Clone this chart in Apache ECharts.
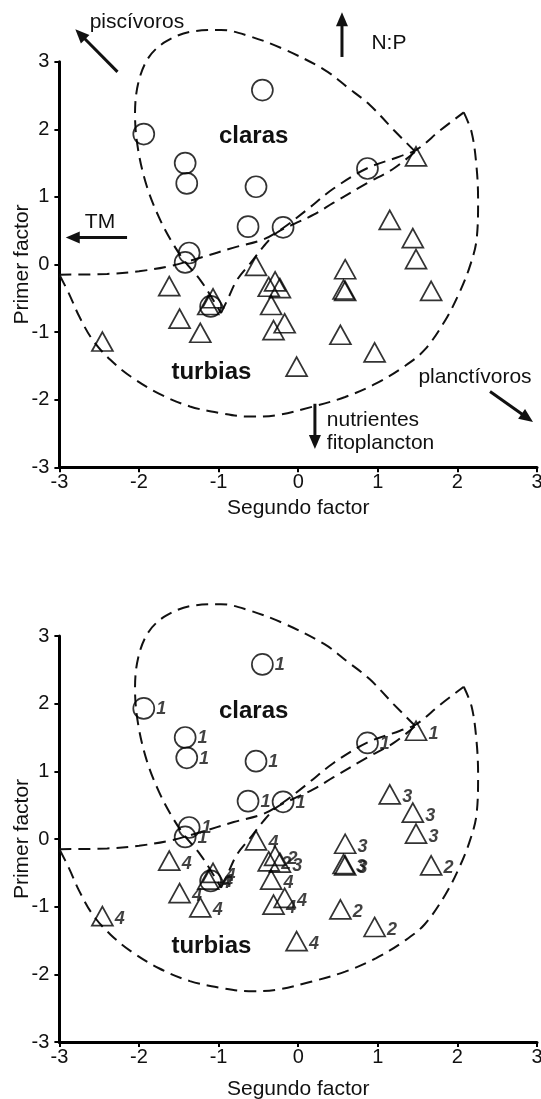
<!DOCTYPE html>
<html>
<head>
<meta charset="utf-8">
<script src="https://cdn.jsdelivr.net/npm/echarts@6/dist/echarts.min.js"></script>
<style>
  html, body { margin: 0; padding: 0; background: #fff; }
  #main { width: 541px; height: 1099px; }
</style>
</head>
<body>
<div id="main"></div>
<script>
(function () {

  // lagos claras (circulos)
  var circX = [-0.45, -1.94, -1.42, -1.40, -0.53, 0.87, -0.63, -0.19, -1.37, -1.42, -1.10];
  var circY = [2.58, 1.93, 1.50, 1.20, 1.15, 1.42, 0.56, 0.55, 0.17, 0.03, -0.62];
  var circLab = ['1', '1', '1', '1', '1', '1', '1', '1', '1', '1', '4'];

  // lagos turbios (triangulos)
  var triX = [1.48, 1.15, 1.44, 1.48, -0.53, 0.59, -1.62, -0.29, -0.37, -0.23, 0.57, 0.59,
    1.67, -1.07, -1.13, -0.34, -1.49, -0.17, -1.23, -0.31, 0.53, -2.46, 0.96, -0.02];
  var triY = [1.60, 0.66, 0.39, 0.08, -0.02, -0.07, -0.32, -0.25, -0.33, -0.35, -0.37, -0.39,
    -0.39, -0.50, -0.60, -0.60, -0.80, -0.87, -1.01, -0.97, -1.04, -1.14, -1.30, -1.51];
  var triLab = ['1', '3', '3', '3', '4', '3', '4', '2', '2', '3', '3', '3',
    '2', '4', '4', '4', '4', '4', '4', '4', '2', '4', '2', '4'];

  // contornos a mano alzada (coordenadas de los factores)
  var clarasArc = [[1.47, 1.67], [1.2, 1.99], [0.9, 2.36], [0.62, 2.62], [0.33, 2.88], [-0.19, 3.19],
    [-0.62, 3.38], [-0.97, 3.47], [-1.32, 3.45], [-1.66, 3.30], [-1.88, 3.06], [-2.01, 2.68],
    [-2.05, 2.22], [-2.01, 1.69], [-1.9, 1.15], [-1.75, 0.7], [-1.6, 0.36], [-1.44, 0.07],
    [-1.23, -0.23], [-1.07, -0.52], [-0.97, -0.72]];
  var clarasBack = [[-0.97, -0.72], [-0.88, -0.5], [-0.77, -0.23], [-0.6, 0.02], [-0.44, 0.26],
    [-0.27, 0.47], [-0.05, 0.6], [0.2, 0.74], [0.44, 0.91], [0.86, 1.2], [1.2, 1.42], [1.47, 1.67]];
  var turbiasTop = [[-3, -0.15], [-2.4, -0.14], [-2.0, -0.1], [-1.6, -0.02], [-1.23, 0.1],
    [-0.81, 0.25], [-0.44, 0.37], [-0.19, 0.54], [0.1, 0.8], [0.44, 1.12], [0.86, 1.42],
    [1.28, 1.6], [1.49, 1.7], [1.78, 1.98], [2.08, 2.25]];
  var turbiasOuter = [[2.08, 2.25], [2.18, 1.95], [2.24, 1.45], [2.26, 0.95], [2.24, 0.36],
    [2.15, -0.05], [2.02, -0.43], [1.85, -0.82], [1.59, -1.26], [1.33, -1.51], [0.98, -1.76],
    [0.59, -1.96], [0.16, -2.11], [-0.28, -2.23], [-0.62, -2.25], [-0.97, -2.2], [-1.36, -2.1],
    [-1.75, -1.91], [-2.1, -1.66], [-2.36, -1.41], [-2.58, -1.12], [-2.75, -0.77],
    [-2.88, -0.43], [-3, -0.15]];

  // flechas del primer grafico: [desde, hasta]
  var arrows = [
    [[-2.27, 2.85], [-2.80, 3.48]],
    [[0.55, 3.07], [0.55, 3.73]],
    [[-2.15, 0.40], [-2.92, 0.40]],
    [[0.21, -2.06], [0.21, -2.73]],
    [[2.41, -1.88], [2.95, -2.33]]
  ];
  // textos: [texto, x, y, align]
  var notes = [
    ['piscívoros', -2.62, 3.58, 'left'],
    ['N:P', 0.92, 3.27, 'left'],
    ['TM', -2.68, 0.63, 'left'],
    ['planctívoros', 1.51, -1.66, 'left'],
    ['nutrientes', 0.36, -2.30, 'left'],
    ['fitoplancton', 0.36, -2.64, 'left']
  ];
  var groupNotes = [
    ['claras', -0.56, 1.89],
    ['turbias', -1.09, -1.59]
  ];

  var FONT = '"Liberation Sans", Arial, sans-serif';
  var chart = echarts.init(document.getElementById('main'));

  function axisX(gi, gap) {
    return {
      type: 'value', gridIndex: gi, min: -3, max: 3, interval: 1,
      name: 'Segundo factor', nameLocation: 'middle', nameGap: gap, nameMoveOverlap: false,
      nameTextStyle: { fontSize: 21, fontFamily: FONT, color: '#111' },
      axisLine: { onZero: false, lineStyle: { color: '#000', width: 3 } },
      axisTick: { length: 5, lineStyle: { color: '#000', width: 2 } },
      axisLabel: { margin: 5, fontSize: 20, fontFamily: FONT, color: '#111' },
      splitLine: { show: false }
    };
  }

  function axisY(gi) {
    return {
      type: 'value', gridIndex: gi, min: -3, max: 3, interval: 1,
      name: 'Primer factor', nameLocation: 'middle', nameGap: 27, nameRotate: 90, nameMoveOverlap: false,
      nameTextStyle: { fontSize: 21, fontFamily: FONT, color: '#111' },
      axisLine: { onZero: false, lineStyle: { color: '#000', width: 3 } },
      axisTick: { length: 5, lineStyle: { color: '#000', width: 2 } },
      axisLabel: { margin: 10, fontSize: 20, fontFamily: FONT, color: '#111' },
      splitLine: { show: false }
    };
  }

  function curve(gi, pts) {
    return {
      type: 'line', xAxisIndex: gi, yAxisIndex: gi, data: pts,
      smooth: 0.35, symbol: 'none', clip: false, silent: true,
      lineStyle: { color: '#111', width: 2, type: [12, 7] }
    };
  }

  function points(gi, xs, ys, labs, symbol, size, withLabels) {
    return {
      type: 'scatter', xAxisIndex: gi, yAxisIndex: gi,
      data: xs.map((x, i) => [x, ys[i]]),
      symbol: symbol, symbolSize: size, z: 5,
      itemStyle: { color: 'rgba(0,0,0,0)', borderColor: '#000', borderWidth: 1.7 },
      label: {
        show: withLabels, position: 'right', distance: 1,
        offset: symbol == 'triangle' ? [0, 3] : [0, 1],
        formatter: p => labs[p.dataIndex],
        fontSize: 18, fontStyle: 'italic', fontWeight: 'bold', fontFamily: FONT, color: '#111'
      }
    };
  }

  var series = [];
  [0, 1].forEach(function (gi) {
    [clarasArc, clarasBack, turbiasTop, turbiasOuter].forEach(pts => series.push(curve(gi, pts)));
    series.push(points(gi, circX, circY, circLab, 'circle', 21, gi == 1));
    series.push(points(gi, triX, triY, triLab, 'triangle', [21, 19], gi == 1));
  });

  chart.setOption({
    animation: false,
    backgroundColor: '#fff',
    grid: [
      { left: 59.4, right: 4, top: 61.7, height: 405.6, containLabel: false, outerBoundsMode: 'none' },
      { left: 59.4, right: 4, top: 636, height: 406, containLabel: false, outerBoundsMode: 'none' }
    ],
    xAxis: [axisX(0, 30), axisX(1, 37)],
    yAxis: [axisY(0), axisY(1)],
    series: series
  });

  // anotaciones: flechas y textos, ubicadas en coordenadas de datos
  var graphics = [];
  arrows.forEach(function (a) {
    var p0 = chart.convertToPixel({ gridIndex: 0 }, a[0]);
    var p1 = chart.convertToPixel({ gridIndex: 0 }, a[1]);
    var dx = p1[0] - p0[0], dy = p1[1] - p0[1];
    var len = Math.sqrt(dx * dx + dy * dy), ux = dx / len, uy = dy / len;
    var hl = 14, hw = 6;
    var bx = p1[0] - ux * hl, by = p1[1] - uy * hl;
    graphics.push({
      type: 'line', silent: true,
      shape: { x1: p0[0], y1: p0[1], x2: bx + ux * 2, y2: by + uy * 2 },
      style: { stroke: '#111', lineWidth: 3 }
    });
    graphics.push({
      type: 'polygon', silent: true,
      shape: { points: [[p1[0], p1[1]], [bx - uy * hw, by + ux * hw], [bx + uy * hw, by - ux * hw]] },
      style: { fill: '#111' }
    });
  });
  notes.forEach(function (n) {
    var p = chart.convertToPixel({ gridIndex: 0 }, [n[1], n[2]]);
    graphics.push({
      type: 'text', silent: true, x: p[0], y: p[1],
      style: { text: n[0], fontSize: 21, fontFamily: FONT, fill: '#111', align: n[3], verticalAlign: 'middle' }
    });
  });
  [0, 1].forEach(function (gi) {
    groupNotes.forEach(function (n) {
      var p = chart.convertToPixel({ gridIndex: gi }, [n[1], n[2]]);
      graphics.push({
        type: 'text', silent: true, x: p[0], y: p[1],
        style: { text: n[0], fontSize: 24, fontWeight: 'bold', fontFamily: FONT, fill: '#111', align: 'center', verticalAlign: 'middle' }
      });
    });
  });
  chart.setOption({ graphic: graphics });

})();
</script>
</body>
</html>
